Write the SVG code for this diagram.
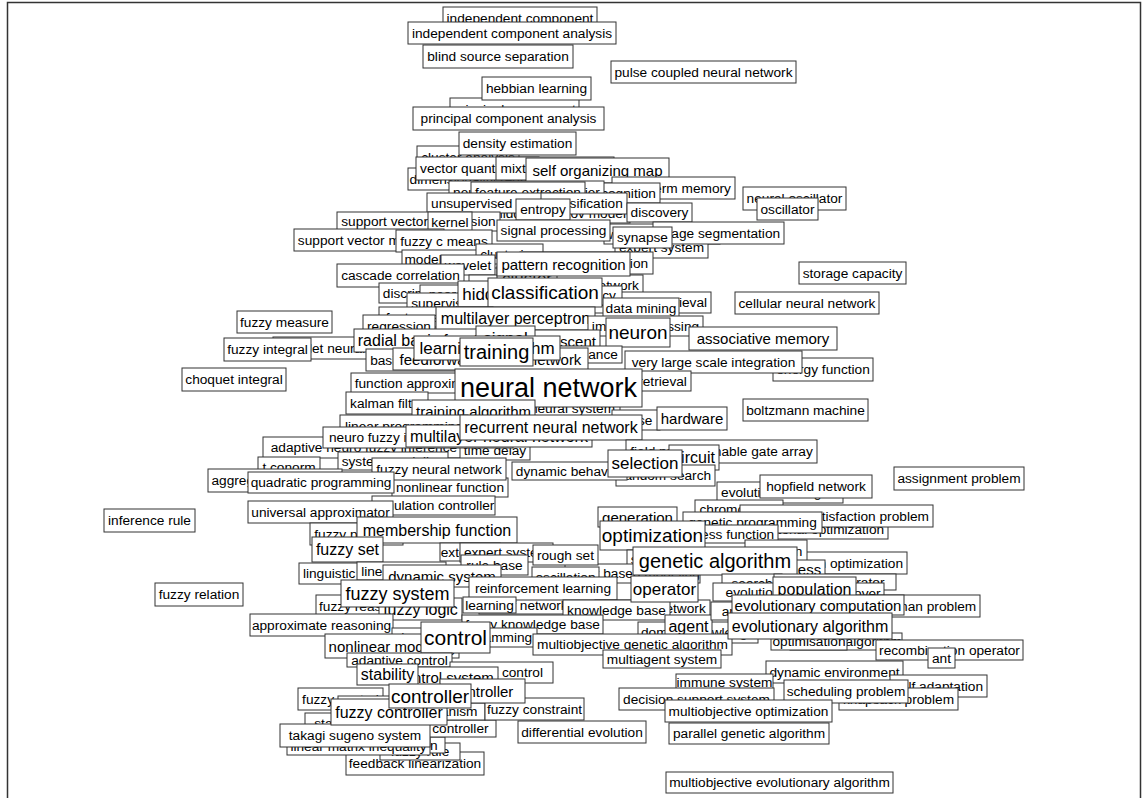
<svg xmlns="http://www.w3.org/2000/svg" width="1147" height="798" viewBox="0 0 1147 798">
<style>
svg svg{overflow:visible}
rect.b{fill:#fff;stroke:#333;stroke-width:1}
text{font-family:"Liberation Sans",Arial,sans-serif;fill:#000;text-anchor:middle;dominant-baseline:central}
.s{font-size:13.7px}.m{font-size:15px}.l{font-size:16px}.k{font-size:17px}.f{font-size:18px}.x{font-size:19px}.y{font-size:20px}.z{font-size:21px}.n{font-size:27px}
</style>
<rect x="7.5" y="2.5" width="1133" height="800" fill="#fff" stroke="#333" stroke-width="1.5"/>
<g id="nodes">
<g id="n1"><svg x="443" y="7" width="154" height="22"><rect class="b" width="100%" height="100%"/><text class="s" x="50%" y="50%">independent component</text></svg></g>
<g id="n2"><svg x="408" y="22" width="208" height="22"><rect class="b" width="100%" height="100%"/><text class="s" x="50%" y="50%">independent component analysis</text></svg></g>
<g id="n3"><svg x="423" y="45" width="150" height="23"><rect class="b" width="100%" height="100%"/><text class="s" x="50%" y="50%">blind source separation</text></svg></g>
<g id="n4"><svg x="611" y="61" width="185" height="22"><rect class="b" width="100%" height="100%"/><text class="s" x="50%" y="50%">pulse coupled neural network</text></svg></g>
<g id="n5"><svg x="450" y="98" width="129" height="22"><rect class="b" width="100%" height="100%"/><text class="s" x="50%" y="50%">principal component</text></svg></g>
<g id="n6"><svg x="482" y="77" width="109" height="23"><rect class="b" width="100%" height="100%"/><text class="s" x="50%" y="50%">hebbian learning</text></svg></g>
<g id="n7"><svg x="413" y="107" width="191" height="23"><rect class="b" width="100%" height="100%"/><text class="s" x="50%" y="50%">principal component analysis</text></svg></g>
<g id="n8"><svg x="417" y="146" width="102" height="22"><rect class="b" width="100%" height="100%"/><text class="s" x="50%" y="50%">cluster analysis</text></svg></g>
<g id="n9"><svg x="408" y="168" width="150" height="22"><rect class="b" width="100%" height="100%"/><text class="s" x="50%" y="50%">dimensionality reduction</text></svg></g>
<g id="n10"><svg x="416" y="157" width="123" height="23"><rect class="b" width="100%" height="100%"/><text class="s" x="50%" y="50%">vector quantization</text></svg></g>
<g id="n11"><svg x="496" y="157" width="118" height="23"><rect class="b" width="100%" height="100%"/><text class="s" x="50%" y="50%">mixture of experts</text></svg></g>
<g id="n12"><svg x="459" y="132" width="117" height="23"><rect class="b" width="100%" height="100%"/><text class="s" x="50%" y="50%">density estimation</text></svg></g>
<g id="n13"><svg x="526" y="158" width="143" height="25"><rect class="b" width="100%" height="100%"/><text class="m" x="50%" y="50%">self organizing map</text></svg></g>
<g id="n15"><svg x="612" y="177" width="123" height="22"><rect class="b" width="100%" height="100%"/><text class="s" x="50%" y="50%">short term memory</text></svg></g>
<g id="n14"><svg x="537" y="183" width="123" height="20"><rect class="b" width="100%" height="100%"/><text class="s" x="50%" y="50%">speech recognition</text></svg></g>
<g id="n16"><svg x="449" y="181" width="155" height="22"><rect class="b" width="100%" height="100%"/><text class="s" x="50%" y="50%">neural network classifier</text></svg></g>
<g id="n17"><svg x="471" y="182" width="114" height="21"><rect class="b" width="100%" height="100%"/><text class="s" x="50%" y="50%">feature extraction</text></svg></g>
<g id="n18"><svg x="743" y="187" width="103" height="23"><rect class="b" width="100%" height="100%"/><text class="s" x="50%" y="50%">neural oscillator</text></svg></g>
<g id="n19"><svg x="757" y="198" width="61" height="22"><rect class="b" width="100%" height="100%"/><text class="s" x="50%" y="50%">oscillator</text></svg></g>
<g id="n24"><svg x="491" y="204" width="139" height="19"><rect class="b" width="100%" height="100%"/><text class="s" x="50%" y="50%">hidden markov model</text></svg></g>
<g id="n20"><svg x="427" y="193" width="142" height="20"><rect class="b" width="100%" height="100%"/><text class="s" x="50%" y="50%">unsupervised learning</text></svg></g>
<g id="n21"><svg x="541" y="193" width="86" height="21"><rect class="b" width="100%" height="100%"/><text class="s" x="50%" y="50%">classification</text></svg></g>
<g id="n22"><svg x="516" y="199" width="54" height="21"><rect class="b" width="100%" height="100%"/><text class="s" x="50%" y="50%">entropy</text></svg></g>
<g id="n23"><svg x="627" y="203" width="65" height="19"><rect class="b" width="100%" height="100%"/><text class="s" x="50%" y="50%">discovery</text></svg></g>
<g id="n25"><svg x="337" y="212" width="163" height="19"><rect class="b" width="100%" height="100%"/><text class="s" x="50%" y="50%">support vector regression</text></svg></g>
<g id="n26"><svg x="428" y="212" width="44" height="20"><rect class="b" width="100%" height="100%"/><text class="s" x="50%" y="50%">kernel</text></svg></g>
<g id="n27a"><svg x="604" y="224" width="116" height="20"><rect class="b" width="100%" height="100%"/><text class="s" x="50%" y="50%">wavelet transform</text></svg></g>
<g id="n28"><svg x="615" y="237" width="93" height="21"><rect class="b" width="100%" height="100%"/><text class="s" x="50%" y="50%">expert system</text></svg></g>
<g id="n27"><svg x="653" y="222" width="131" height="22"><rect class="b" width="100%" height="100%"/><text class="s" x="50%" y="50%">image segmentation</text></svg></g>
<g id="n29"><svg x="497" y="220" width="113" height="21"><rect class="b" width="100%" height="100%"/><text class="s" x="50%" y="50%">signal processing</text></svg></g>
<g id="n30"><svg x="613" y="227" width="59" height="21"><rect class="b" width="100%" height="100%"/><text class="s" x="50%" y="50%">synapse</text></svg></g>
<g id="n31"><svg x="294" y="229" width="150" height="22"><rect class="b" width="100%" height="100%"/><text class="s" x="50%" y="50%">support vector machine</text></svg></g>
<g id="n32"><svg x="396" y="230" width="96" height="22"><rect class="b" width="100%" height="100%"/><text class="s" x="50%" y="50%">fuzzy c means</text></svg></g>
<g id="n33"><svg x="402" y="250" width="100" height="18"><rect class="b" width="100%" height="100%"/><text class="s" x="50%" y="50%">model selection</text></svg></g>
<g id="n34"><svg x="476" y="244" width="67" height="20"><rect class="b" width="100%" height="100%"/><text class="s" x="50%" y="50%">clustering</text></svg></g>
<g id="n35"><svg x="441" y="255" width="54" height="20"><rect class="b" width="100%" height="100%"/><text class="s" x="50%" y="50%">wavelet</text></svg></g>
<g id="n36"><svg x="520" y="252" width="133" height="22"><rect class="b" width="100%" height="100%"/><text class="s" x="50%" y="50%">system identification</text></svg></g>
<g id="n37"><svg x="337" y="264" width="127" height="23"><rect class="b" width="100%" height="100%"/><text class="s" x="50%" y="50%">cascade correlation</text></svg></g>
<g id="n38"><svg x="469" y="275" width="174" height="20"><rect class="b" width="100%" height="100%"/><text class="s" x="50%" y="50%">probabilistic neural network</text></svg></g>
<g id="n39"><svg x="497" y="266" width="60" height="24"><rect class="b" width="100%" height="100%"/><text class="k" x="50%" y="50%">cluster</text></svg></g>
<g id="n40"><svg x="497" y="252" width="133" height="24"><rect class="b" width="100%" height="100%"/><text class="m" x="50%" y="50%">pattern recognition</text></svg></g>
<g id="n41"><svg x="379" y="283" width="134" height="20"><rect class="b" width="100%" height="100%"/><text class="s" x="50%" y="50%">discriminant analysis</text></svg></g>
<g id="n41b"><svg x="420" y="285" width="120" height="18"><rect class="b" width="100%" height="100%"/><text class="s" x="50%" y="50%">nearest neighbor</text></svg></g>
<g id="n43"><svg x="407" y="293" width="127" height="20"><rect class="b" width="100%" height="100%"/><text class="s" x="50%" y="50%">supervised learning</text></svg></g>
<g id="n42"><svg x="458" y="281" width="101" height="26"><rect class="b" width="100%" height="100%"/><text class="k" x="50%" y="50%">hidden layer</text></svg></g>
<g id="n45"><svg x="583" y="292" width="128" height="21"><rect class="b" width="100%" height="100%"/><text class="s" x="50%" y="50%">information retrieval</text></svg></g>
<g id="n44"><svg x="555" y="286" width="67" height="19"><rect class="b" width="100%" height="100%"/><text class="s" x="50%" y="50%">accuracy</text></svg></g>
<g id="n46"><svg x="488" y="278" width="114" height="29"><rect class="b" width="100%" height="100%"/><text class="x" x="50%" y="50%">classification</text></svg></g>
<g id="n47"><svg x="603" y="298" width="76" height="20"><rect class="b" width="100%" height="100%"/><text class="s" x="50%" y="50%">data mining</text></svg></g>
<g id="n48"><svg x="379" y="307" width="114" height="20"><rect class="b" width="100%" height="100%"/><text class="s" x="50%" y="50%">feature selection</text></svg></g>
<g id="n49"><svg x="363" y="315" width="72" height="22"><rect class="b" width="100%" height="100%"/><text class="s" x="50%" y="50%">regression</text></svg></g>
<g id="n50"><svg x="237" y="311" width="95" height="22"><rect class="b" width="100%" height="100%"/><text class="s" x="50%" y="50%">fuzzy measure</text></svg></g>
<g id="n51"><svg x="436" y="307" width="159" height="23"><rect class="b" width="100%" height="100%"/><text class="l" x="50%" y="50%">multilayer perceptron</text></svg></g>
<g id="n52"><svg x="588" y="316" width="115" height="20"><rect class="b" width="100%" height="100%"/><text class="s" x="50%" y="50%">image processing</text></svg></g>
<g id="n53"><svg x="606" y="318" width="64" height="29"><rect class="b" width="100%" height="100%"/><text class="x" x="50%" y="50%">neuron</text></svg></g>
<g id="n54"><svg x="689" y="327" width="148" height="23"><rect class="b" width="100%" height="100%"/><text class="m" x="50%" y="50%">associative memory</text></svg></g>
<g id="n55"><svg x="799" y="262" width="107" height="22"><rect class="b" width="100%" height="100%"/><text class="s" x="50%" y="50%">storage capacity</text></svg></g>
<g id="n56"><svg x="735" y="292" width="144" height="22"><rect class="b" width="100%" height="100%"/><text class="s" x="50%" y="50%">cellular neural network</text></svg></g>
<g id="n57"><svg x="273" y="337" width="148" height="22"><rect class="b" width="100%" height="100%"/><text class="s" x="50%" y="50%">wavelet neural network</text></svg></g>
<g id="n58"><svg x="224" y="338" width="87" height="23"><rect class="b" width="100%" height="100%"/><text class="s" x="50%" y="50%">fuzzy integral</text></svg></g>
<g id="n59"><svg x="354" y="329" width="149" height="23"><rect class="b" width="100%" height="100%"/><text class="l" x="50%" y="50%">radial basis function</text></svg></g>
<g id="n60"><svg x="366" y="349" width="92" height="22"><rect class="b" width="100%" height="100%"/><text class="s" x="50%" y="50%">basis function</text></svg></g>
<g id="n61"><svg x="481" y="330" width="119" height="23"><rect class="b" width="100%" height="100%"/><text class="m" x="50%" y="50%">gradient descent</text></svg></g>
<g id="n62"><svg x="476" y="326" width="59" height="24"><rect class="b" width="100%" height="100%"/><text class="k" x="50%" y="50%">signal</text></svg></g>
<g id="n65"><svg x="537" y="346" width="85" height="17"><rect class="b" width="100%" height="100%"/><text class="s" x="50%" y="50%">performance</text></svg></g>
<g id="n64"><svg x="393" y="348" width="195" height="22"><rect class="b" width="100%" height="100%"/><text class="m" x="50%" y="50%">feedforward neural network</text></svg></g>
<g id="n63"><svg x="414" y="336" width="146" height="24"><rect class="b" width="100%" height="100%"/><text class="k" x="50%" y="50%">learning algorithm</text></svg></g>
<g id="n66"><svg x="460" y="338" width="73" height="28"><rect class="b" width="100%" height="100%"/><text class="y" x="50%" y="50%">training</text></svg></g>
<g id="n67"><svg x="182" y="368" width="104" height="23"><rect class="b" width="100%" height="100%"/><text class="s" x="50%" y="50%">choquet integral</text></svg></g>
<g id="n68"><svg x="773" y="358" width="100" height="23"><rect class="b" width="100%" height="100%"/><text class="s" x="50%" y="50%">energy function</text></svg></g>
<g id="n69"><svg x="625" y="351" width="177" height="22"><rect class="b" width="100%" height="100%"/><text class="s" x="50%" y="50%">very large scale integration</text></svg></g>
<g id="n70"><svg x="351" y="373" width="145" height="20"><rect class="b" width="100%" height="100%"/><text class="s" x="50%" y="50%">function approximation</text></svg></g>
<g id="n71"><svg x="593" y="371" width="98" height="20"><rect class="b" width="100%" height="100%"/><text class="s" x="50%" y="50%">image retrieval</text></svg></g>
<g id="n72"><svg x="743" y="399" width="125" height="22"><rect class="b" width="100%" height="100%"/><text class="s" x="50%" y="50%">boltzmann machine</text></svg></g>
<g id="n73"><svg x="346" y="392" width="82" height="22"><rect class="b" width="100%" height="100%"/><text class="s" x="50%" y="50%">kalman filter</text></svg></g>
<g id="n74"><svg x="525" y="398" width="95" height="20"><rect class="b" width="100%" height="100%"/><text class="s" x="50%" y="50%">neural system</text></svg></g>
<g id="n75"><svg x="455" y="369" width="187" height="38"><rect class="b" width="100%" height="100%"/><text class="n" x="50%" y="50%">neural network</text></svg></g>
<g id="n76"><svg x="612" y="410" width="48" height="20"><rect class="b" width="100%" height="100%"/><text class="s" x="50%" y="50%">noise</text></svg></g>
<g id="n77"><svg x="657" y="407" width="70" height="23"><rect class="b" width="100%" height="100%"/><text class="m" x="50%" y="50%">hardware</text></svg></g>
<g id="n78"><svg x="412" y="400" width="123" height="23"><rect class="b" width="100%" height="100%"/><text class="m" x="50%" y="50%">training algorithm</text></svg></g>
<g id="n79"><svg x="340" y="415" width="128" height="22"><rect class="b" width="100%" height="100%"/><text class="s" x="50%" y="50%">linear programming</text></svg></g>
<g id="n80"><svg x="263" y="437" width="249" height="21"><rect class="b" width="100%" height="100%"/><text class="s" x="50%" y="50%">adaptive neuro fuzzy inference system</text></svg></g>
<g id="n81"><svg x="460" y="440" width="70" height="20"><rect class="b" width="100%" height="100%"/><text class="s" x="50%" y="50%">time delay</text></svg></g>
<g id="n82"><svg x="323" y="427" width="190" height="21"><rect class="b" width="100%" height="100%"/><text class="s" x="50%" y="50%">neuro fuzzy inference system</text></svg></g>
<g id="n83"><svg x="406" y="425" width="186" height="22"><rect class="b" width="100%" height="100%"/><text class="l" x="50%" y="50%">multilayer neural network</text></svg></g>
<g id="n84"><svg x="460" y="415" width="182" height="25"><rect class="b" width="100%" height="100%"/><text class="l" x="50%" y="50%">recurrent neural network</text></svg></g>
<g id="n85"><svg x="626" y="440" width="191" height="23"><rect class="b" width="100%" height="100%"/><text class="s" x="50%" y="50%">field programmable gate array</text></svg></g>
<g id="n86"><svg x="669" y="445" width="50" height="25"><rect class="b" width="100%" height="100%"/><text class="l" x="50%" y="50%">circuit</text></svg></g>
<g id="n87"><svg x="616" y="465" width="99" height="21"><rect class="b" width="100%" height="100%"/><text class="s" x="50%" y="50%">random search</text></svg></g>
<g id="n88"><svg x="512" y="462" width="115" height="18"><rect class="b" width="100%" height="100%"/><text class="s" x="50%" y="50%">dynamic behavior</text></svg></g>
<g id="n89"><svg x="608" y="450" width="74" height="27"><rect class="b" width="100%" height="100%"/><text class="k" x="50%" y="50%">selection</text></svg></g>
<g id="n90"><svg x="258" y="457" width="62" height="20"><rect class="b" width="100%" height="100%"/><text class="s" x="50%" y="50%">t conorm</text></svg></g>
<g id="n91"><svg x="338" y="452" width="110" height="18"><rect class="b" width="100%" height="100%"/><text class="s" x="50%" y="50%">system modeling</text></svg></g>
<g id="n92"><svg x="392" y="478" width="116" height="19"><rect class="b" width="100%" height="100%"/><text class="s" x="50%" y="50%">nonlinear function</text></svg></g>
<g id="n93"><svg x="372" y="458" width="134" height="22"><rect class="b" width="100%" height="100%"/><text class="s" x="50%" y="50%">fuzzy neural network</text></svg></g>
<g id="n94"><svg x="208" y="469" width="134" height="23"><rect class="b" width="100%" height="100%"/><text class="s" x="50%" y="50%">aggregation operator</text></svg></g>
<g id="n95"><svg x="248" y="472" width="146" height="21"><rect class="b" width="100%" height="100%"/><text class="s" x="50%" y="50%">quadratic programming</text></svg></g>
<g id="n96"><svg x="372" y="496" width="123" height="19"><rect class="b" width="100%" height="100%"/><text class="s" x="50%" y="50%">simulation controller</text></svg></g>
<g id="n97"><svg x="248" y="501" width="145" height="22"><rect class="b" width="100%" height="100%"/><text class="s" x="50%" y="50%">universal approximator</text></svg></g>
<g id="n98"><svg x="104" y="509" width="91" height="23"><rect class="b" width="100%" height="100%"/><text class="s" x="50%" y="50%">inference rule</text></svg></g>
<g id="n99"><svg x="894" y="467" width="130" height="23"><rect class="b" width="100%" height="100%"/><text class="s" x="50%" y="50%">assignment problem</text></svg></g>
<g id="n100"><svg x="717" y="482" width="126" height="21"><rect class="b" width="100%" height="100%"/><text class="s" x="50%" y="50%">evolution strategies</text></svg></g>
<g id="n101"><svg x="760" y="475" width="112" height="23"><rect class="b" width="100%" height="100%"/><text class="s" x="50%" y="50%">hopfield network</text></svg></g>
<g id="n102"><svg x="695" y="500" width="88" height="18"><rect class="b" width="100%" height="100%"/><text class="s" x="50%" y="50%">chromosome</text></svg></g>
<g id="n103"><svg x="722" y="519" width="166" height="20"><rect class="b" width="100%" height="100%"/><text class="s" x="50%" y="50%">combinatorial optimization</text></svg></g>
<g id="n104"><svg x="740" y="505" width="193" height="22"><rect class="b" width="100%" height="100%"/><text class="s" x="50%" y="50%">constraint satisfaction problem</text></svg></g>
<g id="n105"><svg x="683" y="512" width="139" height="21"><rect class="b" width="100%" height="100%"/><text class="s" x="50%" y="50%">genetic programming</text></svg></g>
<g id="n106"><svg x="598" y="507" width="79" height="20"><rect class="b" width="100%" height="100%"/><text class="m" x="50%" y="50%">generation</text></svg></g>
<g id="n107"><svg x="679" y="525" width="99" height="18"><rect class="b" width="100%" height="100%"/><text class="s" x="50%" y="50%">fitness function</text></svg></g>
<g id="n108"><svg x="600" y="521" width="105" height="29"><rect class="b" width="100%" height="100%"/><text class="x" x="50%" y="50%">optimization</text></svg></g>
<g id="n109"><svg x="734" y="552" width="173" height="22"><rect class="b" width="100%" height="100%"/><text class="s" x="50%" y="50%">particle swarm optimization</text></svg></g>
<g id="n109b"><svg x="745" y="540" width="62" height="22"><rect class="b" width="100%" height="100%"/><text class="s" x="50%" y="50%">mutation</text></svg></g>
<g id="n110"><svg x="774" y="560" width="51" height="18"><rect class="b" width="100%" height="100%"/><text class="m" x="50%" y="50%">fitness</text></svg></g>
<g id="n110b"><svg x="627" y="550" width="89" height="18"><rect class="b" width="100%" height="100%"/><text class="s" x="50%" y="50%">search space</text></svg></g>
<g id="n121b"><svg x="565" y="564" width="135" height="19"><rect class="b" width="100%" height="100%"/><text class="s" x="50%" y="50%">agent based modeling</text></svg></g>
<g id="n111"><svg x="633" y="547" width="164" height="28"><rect class="b" width="100%" height="100%"/><text class="y" x="50%" y="50%">genetic algorithm</text></svg></g>
<g id="n112"><svg x="310" y="523" width="93" height="22"><rect class="b" width="100%" height="100%"/><text class="s" x="50%" y="50%">fuzzy partition</text></svg></g>
<g id="n113"><svg x="357" y="517" width="160" height="26"><rect class="b" width="100%" height="100%"/><text class="l" x="50%" y="50%">membership function</text></svg></g>
<g id="n114"><svg x="312" y="537" width="71" height="25"><rect class="b" width="100%" height="100%"/><text class="l" x="50%" y="50%">fuzzy set</text></svg></g>
<g id="n115"><svg x="299" y="563" width="112" height="21"><rect class="b" width="100%" height="100%"/><text class="s" x="50%" y="50%">linguistic variable</text></svg></g>
<g id="n116"><svg x="357" y="562" width="89" height="18"><rect class="b" width="100%" height="100%"/><text class="s" x="50%" y="50%">linear system</text></svg></g>
<g id="n117"><svg x="440" y="543" width="60" height="18"><rect class="b" width="100%" height="100%"/><text class="s" x="50%" y="50%">extension</text></svg></g>
<g id="n118"><svg x="460" y="543" width="93" height="19"><rect class="b" width="100%" height="100%"/><text class="s" x="50%" y="50%">expert system</text></svg></g>
<g id="n119"><svg x="533" y="545" width="65" height="20"><rect class="b" width="100%" height="100%"/><text class="s" x="50%" y="50%">rough set</text></svg></g>
<g id="n120"><svg x="461" y="555" width="67" height="20"><rect class="b" width="100%" height="100%"/><text class="s" x="50%" y="50%">rule base</text></svg></g>
<g id="n121"><svg x="383" y="565" width="118" height="22"><rect class="b" width="100%" height="100%"/><text class="m" x="50%" y="50%">dynamic system</text></svg></g>
<g id="n122"><svg x="532" y="567" width="67" height="20"><rect class="b" width="100%" height="100%"/><text class="s" x="50%" y="50%">oscillation</text></svg></g>
<g id="n123"><svg x="155" y="583" width="88" height="23"><rect class="b" width="100%" height="100%"/><text class="s" x="50%" y="50%">fuzzy relation</text></svg></g>
<g id="n124"><svg x="316" y="595" width="102" height="22"><rect class="b" width="100%" height="100%"/><text class="s" x="50%" y="50%">fuzzy reasoning</text></svg></g>
<g id="n125"><svg x="379" y="598" width="83" height="22"><rect class="b" width="100%" height="100%"/><text class="l" x="50%" y="50%">fuzzy logic</text></svg></g>
<g id="n126"><svg x="341" y="580" width="113" height="27"><rect class="b" width="100%" height="100%"/><text class="f" x="50%" y="50%">fuzzy system</text></svg></g>
<g id="n126b"><svg x="479" y="596" width="93" height="18"><rect class="b" width="100%" height="100%"/><text class="s" x="50%" y="50%">belief network</text></svg></g>
<g id="n127"><svg x="469" y="577" width="148" height="23"><rect class="b" width="100%" height="100%"/><text class="s" x="50%" y="50%">reinforcement learning</text></svg></g>
<g id="n128"><svg x="463" y="597" width="53" height="16"><rect class="b" width="100%" height="100%"/><text class="s" x="50%" y="50%">learning</text></svg></g>
<g id="n129"><svg x="595" y="600" width="115" height="16"><rect class="b" width="100%" height="100%"/><text class="s" x="50%" y="50%">bayesian network</text></svg></g>
<g id="n130"><svg x="563" y="600" width="107" height="20"><rect class="b" width="100%" height="100%"/><text class="s" x="50%" y="50%">knowledge base</text></svg></g>
<g id="n131"><svg x="250" y="614" width="143" height="22"><rect class="b" width="100%" height="100%"/><text class="s" x="50%" y="50%">approximate reasoning</text></svg></g>
<g id="n132"><svg x="462" y="615" width="141" height="19"><rect class="b" width="100%" height="100%"/><text class="s" x="50%" y="50%">fuzzy knowledge base</text></svg></g>
<g id="n133"><svg x="631" y="576" width="67" height="26"><rect class="b" width="100%" height="100%"/><text class="k" x="50%" y="50%">operator</text></svg></g>
<g id="n134"><svg x="638" y="622" width="120" height="21"><rect class="b" width="100%" height="100%"/><text class="s" x="50%" y="50%">domain knowledge</text></svg></g>
<g id="n135"><svg x="665" y="615" width="47" height="23"><rect class="b" width="100%" height="100%"/><text class="l" x="50%" y="50%">agent</text></svg></g>
<g id="n136"><svg x="392" y="628" width="145" height="19"><rect class="b" width="100%" height="100%"/><text class="s" x="50%" y="50%">dynamic programming</text></svg></g>
<g id="n137"><svg x="533" y="634" width="199" height="21"><rect class="b" width="100%" height="100%"/><text class="s" x="50%" y="50%">multiobjective genetic algorithm</text></svg></g>
<g id="n138"><svg x="603" y="650" width="118" height="18"><rect class="b" width="100%" height="100%"/><text class="s" x="50%" y="50%">multiagent system</text></svg></g>
<g id="n139"><svg x="325" y="634" width="134" height="24"><rect class="b" width="100%" height="100%"/><text class="m" x="50%" y="50%">nonlinear modeling</text></svg></g>
<g id="n140"><svg x="421" y="622" width="69" height="31"><rect class="b" width="100%" height="100%"/><text class="z" x="50%" y="50%">control</text></svg></g>
<g id="n141"><svg x="722" y="574" width="60" height="18"><rect class="b" width="100%" height="100%"/><text class="s" x="50%" y="50%">search</text></svg></g>
<g id="n142"><svg x="774" y="574" width="122" height="16"><rect class="b" width="100%" height="100%"/><text class="s" x="50%" y="50%">genetic operator</text></svg></g>
<g id="n143"><svg x="818" y="583" width="66" height="20"><rect class="b" width="100%" height="100%"/><text class="s" x="50%" y="50%">crossover</text></svg></g>
<g id="n144"><svg x="713" y="583" width="80" height="18"><rect class="b" width="100%" height="100%"/><text class="s" x="50%" y="50%">evolution</text></svg></g>
<g id="n145"><svg x="711" y="602" width="140" height="18"><rect class="b" width="100%" height="100%"/><text class="s" x="50%" y="50%">artificial intelligence</text></svg></g>
<g id="n146"><svg x="805" y="595" width="175" height="22"><rect class="b" width="100%" height="100%"/><text class="s" x="50%" y="50%">traveling salesman problem</text></svg></g>
<g id="n147"><svg x="773" y="577" width="83" height="25"><rect class="b" width="100%" height="100%"/><text class="l" x="50%" y="50%">population</text></svg></g>
<g id="n148"><svg x="732" y="595" width="172" height="20"><rect class="b" width="100%" height="100%"/><text class="m" x="50%" y="50%">evolutionary computation</text></svg></g>
<g id="n149"><svg x="790" y="633" width="112" height="17"><rect class="b" width="100%" height="100%"/><text class="s" x="50%" y="50%">memetic algorithm</text></svg></g>
<g id="n150"><svg x="771" y="633" width="76" height="17"><rect class="b" width="100%" height="100%"/><text class="s" x="50%" y="50%">optimisation</text></svg></g>
<g id="n151"><svg x="728" y="613" width="164" height="26"><rect class="b" width="100%" height="100%"/><text class="l" x="50%" y="50%">evolutionary algorithm</text></svg></g>
<g id="n152"><svg x="876" y="640" width="147" height="20"><rect class="b" width="100%" height="100%"/><text class="s" x="50%" y="50%">recombination operator</text></svg></g>
<g id="n153"><svg x="928" y="648" width="27" height="20"><rect class="b" width="100%" height="100%"/><text class="s" x="50%" y="50%">ant</text></svg></g>
<g id="n154"><svg x="766" y="661" width="137" height="22"><rect class="b" width="100%" height="100%"/><text class="s" x="50%" y="50%">dynamic environment</text></svg></g>
<g id="n155"><svg x="890" y="675" width="97" height="22"><rect class="b" width="100%" height="100%"/><text class="s" x="50%" y="50%">self adaptation</text></svg></g>
<g id="n156"><svg x="839" y="688" width="119" height="22"><rect class="b" width="100%" height="100%"/><text class="s" x="50%" y="50%">knapsack problem</text></svg></g>
<g id="n157"><svg x="784" y="680" width="124" height="23"><rect class="b" width="100%" height="100%"/><text class="s" x="50%" y="50%">scheduling problem</text></svg></g>
<g id="n158"><svg x="676" y="674" width="97" height="16"><rect class="b" width="100%" height="100%"/><text class="s" x="50%" y="50%">immune system</text></svg></g>
<g id="n159"><svg x="619" y="688" width="155" height="22"><rect class="b" width="100%" height="100%"/><text class="s" x="50%" y="50%">decision support system</text></svg></g>
<g id="n160"><svg x="665" y="700" width="167" height="22"><rect class="b" width="100%" height="100%"/><text class="s" x="50%" y="50%">multiobjective optimization</text></svg></g>
<g id="n161"><svg x="669" y="723" width="160" height="21"><rect class="b" width="100%" height="100%"/><text class="s" x="50%" y="50%">parallel genetic algorithm</text></svg></g>
<g id="n162"><svg x="518" y="721" width="128" height="22"><rect class="b" width="100%" height="100%"/><text class="s" x="50%" y="50%">differential evolution</text></svg></g>
<g id="n163"><svg x="666" y="772" width="227" height="21"><rect class="b" width="100%" height="100%"/><text class="s" x="50%" y="50%">multiobjective evolutionary algorithm</text></svg></g>
<g id="n164"><svg x="347" y="653" width="105" height="14"><rect class="b" width="100%" height="100%"/><text class="s" x="50%" y="50%">adaptive control</text></svg></g>
<g id="n165"><svg x="450" y="662" width="103" height="21"><rect class="b" width="100%" height="100%"/><text class="s" x="50%" y="50%">robust control</text></svg></g>
<g id="n166"><svg x="393" y="667" width="105" height="21"><rect class="b" width="100%" height="100%"/><text class="m" x="50%" y="50%">control system</text></svg></g>
<g id="n167"><svg x="357" y="664" width="61" height="21"><rect class="b" width="100%" height="100%"/><text class="l" x="50%" y="50%">stability</text></svg></g>
<g id="n168"><svg x="298" y="688" width="85" height="22"><rect class="b" width="100%" height="100%"/><text class="s" x="50%" y="50%">fuzzy control</text></svg></g>
<g id="n168b"><svg x="338" y="696" width="100" height="20"><rect class="b" width="100%" height="100%"/><text class="s" x="50%" y="50%">pid controller</text></svg></g>
<g id="n169"><svg x="305" y="713" width="90" height="20"><rect class="b" width="100%" height="100%"/><text class="s" x="50%" y="50%">stabilization</text></svg></g>
<g id="n173"><svg x="346" y="752" width="138" height="23"><rect class="b" width="100%" height="100%"/><text class="s" x="50%" y="50%">feedback linearization</text></svg></g>
<g id="n172"><svg x="380" y="743" width="80" height="17"><rect class="b" width="100%" height="100%"/><text class="s" x="50%" y="50%">fuzzy rule</text></svg></g>
<g id="n171"><svg x="330" y="737" width="115" height="16"><rect class="b" width="100%" height="100%"/><text class="s" x="50%" y="50%">controller design</text></svg></g>
<g id="n170"><svg x="287" y="738" width="143" height="17"><rect class="b" width="100%" height="100%"/><text class="s" x="50%" y="50%">linear matrix inequality</text></svg></g>
<g id="n175"><svg x="383" y="720" width="113" height="17"><rect class="b" width="100%" height="100%"/><text class="s" x="50%" y="50%">robust controller</text></svg></g>
<g id="n174"><svg x="280" y="724" width="150" height="23"><rect class="b" width="100%" height="100%"/><text class="s" x="50%" y="50%">takagi sugeno system</text></svg></g>
<g id="n176"><svg x="400" y="703" width="85" height="17"><rect class="b" width="100%" height="100%"/><text class="s" x="50%" y="50%">mechanism</text></svg></g>
<g id="n177"><svg x="485" y="698" width="99" height="22"><rect class="b" width="100%" height="100%"/><text class="s" x="50%" y="50%">fuzzy constraint</text></svg></g>
<g id="n178"><svg x="440" y="679" width="85" height="24"><rect class="b" width="100%" height="100%"/><text class="m" x="50%" y="50%">controller</text></svg></g>
<g id="n179"><svg x="331" y="699" width="116" height="26"><rect class="b" width="100%" height="100%"/><text class="l" x="50%" y="50%">fuzzy controller</text></svg></g>
<g id="n180"><svg x="389" y="684" width="82" height="24"><rect class="b" width="100%" height="100%"/><text class="x" x="50%" y="50%">controller</text></svg></g>
</g>
<g id="connectors"></g>
</svg>
